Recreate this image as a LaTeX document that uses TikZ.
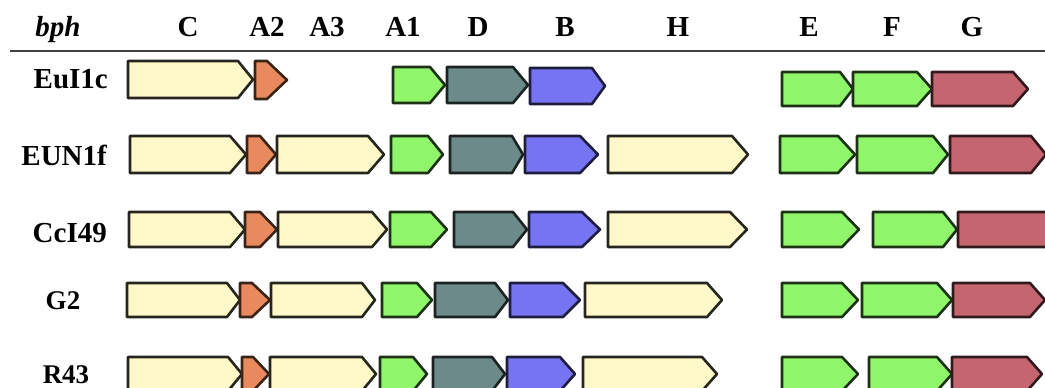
\documentclass[tikz,border=0pt]{standalone}
\usepackage{fontspec}
\setmainfont{Liberation Serif}
\definecolor{cream}{HTML}{FFF8C8}
\definecolor{orng}{HTML}{E88A5E}
\definecolor{lgrn}{HTML}{8FF56B}
\definecolor{slate}{HTML}{6B8A89}
\definecolor{blu}{HTML}{7674F2}
\definecolor{redg}{HTML}{C5656F}
\newcommand{\gn}[6]{\draw[#1] (#2,#5) -- (#3,#5) -- (#4,{(#5+#6)/2}) -- (#3,#6) -- (#2,#6) -- cycle;}
\tikzset{
  gene/.style={line width=2.6pt, line join=round},
  gC/.style={gene, fill=cream, draw=cream!15!black},
  gO/.style={gene, fill=orng, draw=orng!25!black},
  gG/.style={gene, fill=lgrn, draw=lgrn!20!black},
  gS/.style={gene, fill=slate, draw=slate!25!black},
  gB/.style={gene, fill=blu, draw=blu!25!black},
  gR/.style={gene, fill=redg, draw=redg!25!black},
  hdr/.style={anchor=base, inner sep=0pt, font=\fontsize{29}{34}\selectfont\bfseries},
  lab/.style={inner sep=0pt, font=\fontsize{29}{34}\selectfont\bfseries},
  labs/.style={anchor=base, inner sep=0pt, font=\fontsize{27}{32}\selectfont\bfseries}
}
\begin{document}
\begin{tikzpicture}[x=1pt,y=-1pt]
\useasboundingbox (0,0) rectangle (1045,388);
\begin{scope}
\clip (0,0) rectangle (1045,388);
% row 1 EuI1c
\gn{gC}{128}{238}{253}{61}{98}
\gn{gO}{255}{267}{287}{61}{99}
\gn{gG}{393}{430}{445}{67}{103}
\gn{gS}{447}{513}{528}{67}{103}
\gn{gB}{530}{592}{605}{68}{104}
\gn{gG}{782}{840}{853}{72}{106}
\gn{gG}{853}{917}{932}{72}{106}
\gn{gR}{932}{1013}{1028}{72}{106}
% row 2 EUN1f
\gn{gC}{130}{230}{246}{136}{173}
\gn{gO}{247}{260}{276}{136}{173}
\gn{gC}{277}{368}{384}{136}{173}
\gn{gG}{391}{428}{443}{136}{173}
\gn{gS}{450}{512}{523}{136}{173}
\gn{gB}{525}{580}{598}{136}{173}
\gn{gC}{608}{732}{748}{136}{173}
\gn{gG}{780}{838}{855}{136}{173}
\gn{gG}{857}{933}{948}{136}{173}
\gn{gR}{950}{1031}{1046}{136}{173}
% row 3 CcI49
\gn{gC}{129}{230}{245}{212}{247}
\gn{gO}{245}{260}{277}{212}{247}
\gn{gC}{278}{372}{387}{212}{247}
\gn{gG}{390}{431}{447}{212}{247}
\gn{gS}{454}{513}{527}{212}{247}
\gn{gB}{529}{582}{600}{212}{247}
\gn{gC}{608}{730}{747}{212}{247}
\gn{gG}{782}{842}{859}{212}{247}
\gn{gG}{873}{943}{957}{212}{247}
\gn{gR}{958}{1052}{1067}{212}{247}
% row 4 G2
\gn{gC}{127}{227}{240}{283}{317}
\gn{gO}{240}{252}{270}{283}{317}
\gn{gC}{271}{362}{375}{283}{317}
\gn{gG}{382}{417}{432}{283}{317}
\gn{gS}{435}{495}{508}{283}{317}
\gn{gB}{510}{563}{580}{283}{317}
\gn{gC}{585}{707}{722}{283}{317}
\gn{gG}{782}{842}{858}{283}{317}
\gn{gG}{862}{937}{952}{283}{317}
\gn{gR}{953}{1030}{1045}{283}{317}
% row 5 R43
\gn{gC}{128}{228}{242}{357}{391}
\gn{gO}{242}{253}{269}{357}{391}
\gn{gC}{270}{362}{376}{357}{391}
\gn{gG}{380}{413}{427}{357}{391}
\gn{gS}{433}{492}{505}{357}{391}
\gn{gB}{507}{560}{575}{357}{391}
\gn{gC}{583}{702}{717}{357}{391}
\gn{gG}{782}{842}{858}{357}{391}
\gn{gG}{869}{937}{952}{357}{391}
\gn{gR}{952}{1027}{1042}{357}{391}
\end{scope}
% header
\node[hdr] (hbph) at (58,36) {\itshape bph};
\node[hdr] (hC) at (188,36) {C};
\node[hdr] (hA2) at (267,36) {A2};
\node[hdr] (hA3) at (327,36) {A3};
\node[hdr] (hA1) at (403,36) {A1};
\node[hdr] (hD) at (478,36) {D};
\node[hdr] (hB) at (565,36) {B};
\node[hdr] (hH) at (678,36) {H};
\node[hdr] (hE) at (809,36) {E};
\node[hdr] (hF) at (892,36) {F};
\node[hdr] (hG) at (972,36) {G};
\draw[line width=1.8pt, draw=black!75] (10,51) -- (1045,51);
% row labels
\node[lab, anchor=base east] (l1) at (108,88) {EuI1c};
\node[lab, anchor=base east] (l2) at (107,165) {EUN1f};
\node[lab, anchor=base east] (l3) at (107,242) {CcI49};
\node[labs] (l4) at (63,309) {G2};
\node[labs] (l5) at (66,383) {R43};
\end{tikzpicture}
\end{document}
